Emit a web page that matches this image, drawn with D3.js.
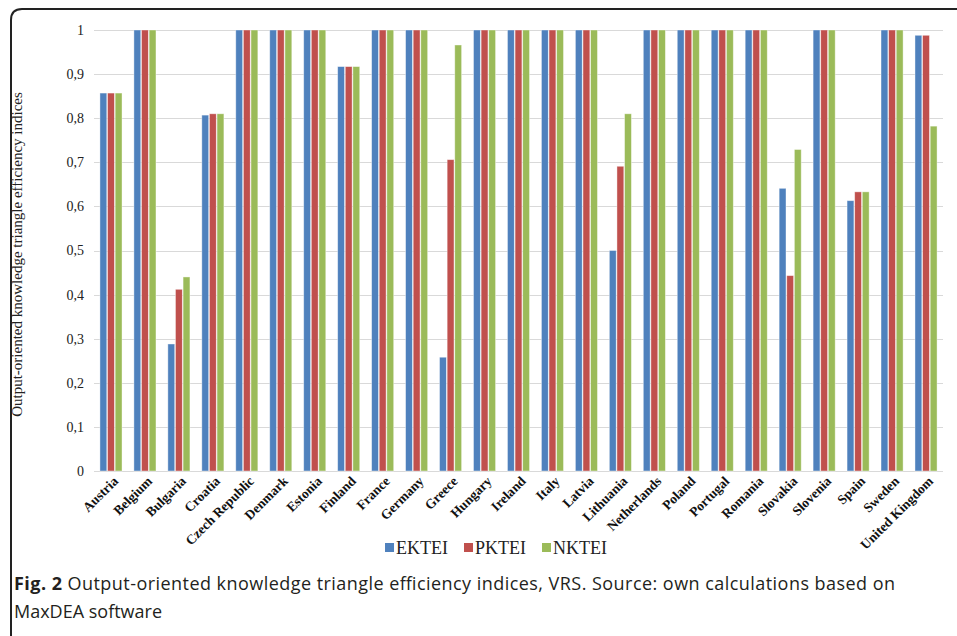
<!DOCTYPE html>
<html>
<head>
<meta charset="utf-8">
<script src="https://cdn.jsdelivr.net/npm/d3@7"></script>
<style>
  body { margin: 0; background: #fff; }
  svg { display: block; }
</style>
</head>
<body>
<svg id="chart" width="957" height="636"></svg>
<script>
var countries = ["Austria", "Belgium", "Bulgaria", "Croatia", "Czech Republic", "Denmark",
  "Estonia", "Finland", "France", "Germany", "Greece", "Hungary", "Ireland", "Italy",
  "Latvia", "Lithuania", "Netherlands", "Poland", "Portugal", "Romania", "Slovakia",
  "Slovenia", "Spain", "Sweden", "United Kingdom"];
var series = ["EKTEI", "PKTEI", "NKTEI"];
var colors = ["#4F81BD", "#C0504D", "#9BBB59"];

var ektei = [0.857, 1, 0.288, 0.807, 1, 1, 1, 0.917, 1, 1, 0.258, 1, 1, 1, 1, 0.500, 1, 1, 1, 1, 0.641, 1, 0.613, 1, 0.988];
var pktei = [0.857, 1, 0.412, 0.810, 1, 1, 1, 0.917, 1, 1, 0.706, 1, 1, 1, 1, 0.691, 1, 1, 1, 1, 0.443, 1, 0.633, 1, 0.988];
var nktei = [0.857, 1, 0.440, 0.810, 1, 1, 1, 0.917, 1, 1, 0.966, 1, 1, 1, 1, 0.810, 1, 1, 1, 1, 0.729, 1, 0.633, 1, 0.782];

var yTicks = [0, 0.1, 0.2, 0.3, 0.4, 0.5, 0.6, 0.7, 0.8, 0.9, 1];

var svg = d3.select("#chart");

// frame
svg.append("path")
  .attr("d", "M11,660 L11,20 Q11,9 22,9 L980,9")
  .attr("fill", "none")
  .attr("stroke", "#222")
  .attr("stroke-width", 2);

var plotL = 94, plotR = 943, plotT = 30, plotB = 471;

var x0 = d3.scaleBand().domain(countries).range([plotL, plotR])
  .paddingInner(0.35).paddingOuter(0.175);
var x1 = d3.scaleBand().domain(series).range([0, x0.bandwidth()]).paddingInner(0.1);
var y = d3.scaleLinear().domain([0, 1]).range([plotB, plotT]);

// grid
svg.append("g").selectAll("line")
  .data(yTicks)
  .join("line")
  .attr("x1", plotL).attr("x2", plotR)
  .attr("y1", function(d) { return Math.round(y(d)) + 0.5; })
  .attr("y2", function(d) { return Math.round(y(d)) + 0.5; })
  .attr("stroke", "#d9d9d9")
  .attr("stroke-width", 1.2);

// y labels
svg.append("g").selectAll("text")
  .data(yTicks)
  .join("text")
  .attr("x", 84)
  .attr("y", function(d) { return y(d); })
  .attr("dy", "0.35em")
  .attr("text-anchor", "end")
  .style("font-family", "'Liberation Serif', serif")
  .style("font-size", "14px")
  .attr("fill", "#222")
  .text(function(d) { return d === 0 || d === 1 ? String(d) : d3.format(".1f")(d).replace(".", ","); });

// y title
svg.append("text")
  .attr("transform", "translate(22," + ((plotT + plotB) / 2 + 4) + ") rotate(-90)")
  .attr("text-anchor", "middle")
  .style("font-family", "'Liberation Serif', serif")
  .style("font-size", "15px")
  .attr("fill", "#222")
  .text("Output-oriented knowledge triangle efficiency indices");

// bars
var table = countries.map(function(c, i) {
  return { country: c, values: [ektei[i], pktei[i], nktei[i]] };
});

var groups = svg.append("g").selectAll("g")
  .data(table)
  .join("g")
  .attr("transform", function(d) { return "translate(" + x0(d.country) + ",0)"; });

groups.selectAll("rect")
  .data(function(d) { return d.values.map(function(v, k) { return { s: series[k], v: v, k: k }; }); })
  .join("rect")
  .attr("x", function(d) { return x1(d.s); })
  .attr("width", x1.bandwidth())
  .attr("y", function(d) { return y(d.v); })
  .attr("height", function(d) { return plotB - y(d.v); })
  .attr("fill", function(d) { return colors[d.k]; })
  .attr("stroke", "#fff")
  .attr("stroke-opacity", 0.5)
  .attr("stroke-width", 0.8);

// x labels
svg.append("g").selectAll("text")
  .data(countries)
  .join("text")
  .attr("transform", function(d) {
    return "translate(" + (x0(d) + x0.bandwidth() / 2 + 8) + ",482) rotate(-45)";
  })
  .attr("text-anchor", "end")
  .style("font-family", "'Liberation Serif', serif")
  .style("font-size", "13.5px")
  .style("font-weight", "bold")
  .attr("fill", "#111")
  .text(function(d) { return d; });

// legend
var legend = svg.append("g");
var items = legend.selectAll("g")
  .data(series)
  .join("g");
items.append("rect")
  .attr("width", 9).attr("height", 9)
  .attr("y", -11)
  .attr("fill", function(d, i) { return colors[i]; });
items.append("text")
  .attr("x", 11)
  .style("font-family", "'Liberation Serif', serif")
  .style("font-size", "18px")
  .attr("fill", "#222")
  .text(function(d) { return d; });
var widths = [];
items.each(function() { widths.push(this.getBBox().width); });
var gap = 16;
var total = d3.sum(widths) + gap * (widths.length - 1);
var startX = 496 - total / 2;
items.attr("transform", function(d, i) {
  var p = startX + d3.sum(widths.slice(0, i)) + gap * i;
  return "translate(" + p + ",554)";
});

// caption
var cap = svg.append("g")
  .style("font-family", "'Open Sans', sans-serif")
  .style("font-size", "18px")
  .attr("fill", "#231f20");
var line1 = cap.append("text").attr("x", 14).attr("y", 590)
  .attr("textLength", 881).attr("lengthAdjust", "spacing");
line1.append("tspan").style("font-weight", "bold").text("Fig. 2");
line1.append("tspan").text(" Output-oriented knowledge triangle efficiency indices, VRS. Source: own calculations based on");
cap.append("text").attr("x", 14).attr("y", 618).text("MaxDEA software");
</script>
</body>
</html>
